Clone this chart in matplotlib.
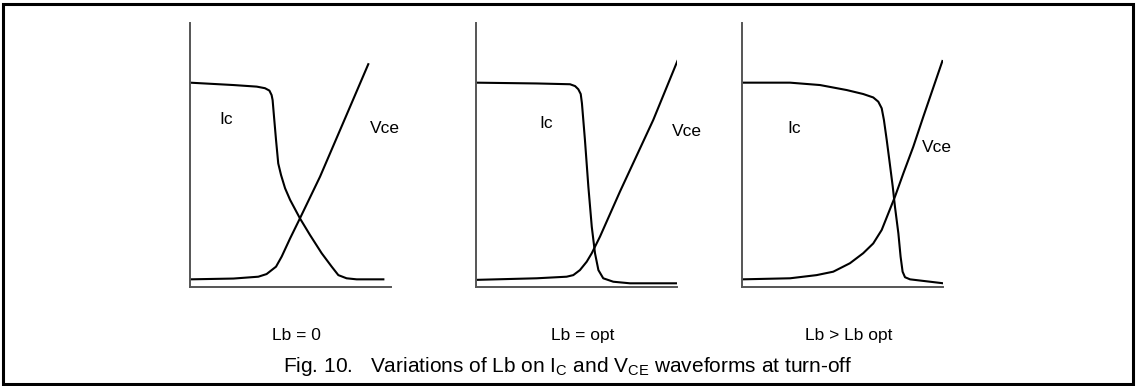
import matplotlib.pyplot as plt
from matplotlib.patches import Rectangle

plt.rcParams['font.family'] = ['Liberation Sans', 'DejaVu Sans']

# time axis in % of the window, amplitude in % of full scale
# Lb = 0
t_ic_1 = [0, 21.6, 33.2, 37.3, 39.5, 40.6, 41.1, 41.8, 42.8, 43.9, 45.3, 47.3,
          49.8, 54.7, 59.7, 65.5, 70.5, 73.8, 77.9, 82.9, 96.2]
ic_1 = [77.4, 76.5, 75.9, 75.3, 74.4, 72.7, 70.8, 64.5, 55.7, 46.8, 42.4, 37.4,
        33.0, 26.0, 19.7, 12.8, 7.7, 4.5, 3.3, 2.9, 2.9]
t_vce_1 = [0, 21.6, 34.0, 38.1, 42.8, 45.6, 49.8, 54.7, 64.7, 77.9, 88.7]
vce_1 = [2.9, 3.2, 3.9, 4.9, 7.7, 11.5, 18.4, 26.0, 41.8, 65.2, 84.4]

# Lb = opt
t_ic_2 = [0, 30.2, 46.8, 49.3, 50.9, 52.1, 52.7, 54.2, 55.9, 57.6, 59.2, 60.9,
          63.3, 68.3, 76.6, 99.8]
ic_2 = [77.4, 77.1, 76.8, 76.1, 74.9, 73.1, 69.6, 55.7, 38.0, 22.8, 12.8, 6.4,
        3.3, 2.0, 1.4, 1.4]
t_vce_2 = [0, 30.2, 45.1, 48.4, 51.7, 55.1, 57.6, 61.7, 71.6, 88.2, 100.2]
vce_2 = [2.7, 3.3, 3.9, 4.5, 6.4, 9.6, 12.8, 19.1, 36.1, 63.3, 85.6]

# Lb > Lb opt
t_ic_3 = [0, 23.9, 38.8, 52.1, 60.3, 65.3, 67.8, 69.5, 70.6, 72.0, 73.3, 75.0,
          76.1, 77.8, 78.9, 79.9, 81.1, 83.6, 100.2]
ic_3 = [77.4, 77.4, 76.5, 74.6, 73.1, 71.8, 70.2, 67.7, 63.3, 55.7, 48.1, 38.0,
        30.4, 20.3, 11.5, 5.8, 3.7, 2.9, 1.4]
t_vce_3 = [0, 23.9, 37.1, 45.4, 53.7, 60.3, 65.3, 69.5, 72.8, 76.1, 80.3, 85.2,
           90.2, 99.7]
vce_3 = [2.9, 3.3, 4.5, 5.8, 9.0, 12.8, 16.5, 21.6, 27.9, 34.2, 43.1, 53.1,
         64.5, 85.6]

captions = ["Lb = 0", "Lb = opt", "Lb > Lb opt"]
ic_label_pos = [(18, 63.5), (35, 62), (26, 60)]
vce_label_pos = [(97, 60), (105, 59), (97, 53)]

W, H = 1136, 386
fig = plt.figure(figsize=(W / 100, H / 100), dpi=100)

# outer frame
fig.patches.append(Rectangle((2.5 / W, 2 / H), 1130.5 / W, 380 / H,
                             transform=fig.transFigure, fill=False,
                             edgecolor='black', linewidth=2.2))

panels = [
    (190, t_ic_1, ic_1, t_vce_1, vce_1),
    (476, t_ic_2, ic_2, t_vce_2, vce_2),
    (742, t_ic_3, ic_3, t_vce_3, vce_3),
]

for i, (left, t_ic, ic, t_vce, vce) in enumerate(panels):
    ax = fig.add_axes([left / W, (H - 287) / H, 201 / W, 264 / H])
    ax.plot(t_ic, ic, color='black', linewidth=1.5, solid_joinstyle='round')
    ax.plot(t_vce, vce, color='black', linewidth=1.5, solid_joinstyle='round')
    ax.set_xlim(0, 100)
    ax.set_ylim(0, 100)
    for side in ['top', 'right']:
        ax.spines[side].set_visible(False)
    for side in ['left', 'bottom']:
        ax.spines[side].set_color('#555555')
        ax.spines[side].set_linewidth(1.4)
    ax.set_xticks([])
    ax.set_yticks([])
    ax.patch.set_alpha(0)

    ax.text(*ic_label_pos[i], "Ic", fontsize=12.5, ha='center', va='center',
            clip_on=False)
    ax.text(*vce_label_pos[i], "Vce", fontsize=12.5, ha='center', va='center',
            clip_on=False)
    ax.text(53, -18.5, captions[i], fontsize=12.5, ha='center', va='center',
            clip_on=False)

fig.text(0.5, 1 - 367 / H,
         r"Fig. 10.   Variations of Lb on I$_\mathregular{C}$ and "
         r"V$_\mathregular{CE}$ waveforms at turn-off",
         fontsize=15, ha='center', va='center')

fig.savefig("out.png", dpi=100)
